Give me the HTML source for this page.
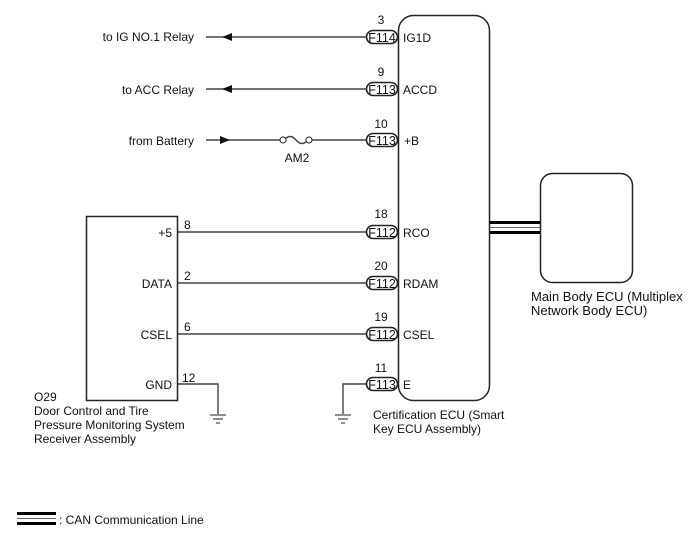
<!DOCTYPE html>
<html><head><meta charset="utf-8"><style>
html,body{margin:0;padding:0;background:#fff;}
svg{display:block;font-family:"Liberation Sans",Arial,sans-serif;}
text{font-size:12px;fill:#111;}
.pill{font-size:12.5px;}
.big{font-size:13px;}
</style></head><body>
<svg width="688" height="560" viewBox="0 0 688 560" xmlns="http://www.w3.org/2000/svg">
<g stroke="#444" stroke-width="1.4" fill="none">
<line x1="206" y1="37" x2="367" y2="37"/>
<line x1="206" y1="89" x2="367" y2="89"/>
<line x1="206" y1="140" x2="282" y2="140"/>
<line x1="308" y1="140" x2="367" y2="140"/>
<path d="M284,140 q6,-7 12,0 q6,7 12,0"/>
<line x1="177" y1="232" x2="367" y2="232"/>
<line x1="177" y1="283" x2="367" y2="283"/>
<line x1="177" y1="334" x2="367" y2="334"/>
<polyline points="177,384 218,384 218,414"/>
<polyline points="367,384 343,384 343,414"/>
</g>
<g fill="#fff" stroke="#444" stroke-width="1.2">
<circle cx="283" cy="140" r="3"/><circle cx="309" cy="140" r="3"/>
</g>
<g fill="#111">
<polygon points="222,37 232,33 232,41"/>
<polygon points="222,89 232,85 232,93"/>
<polygon points="230,140 220,136 220,144"/>
</g>
<g stroke="#444" stroke-width="1.2">
<line x1="210" y1="415" x2="226" y2="415"/><line x1="213" y1="419" x2="223" y2="419"/><line x1="216" y1="423" x2="220" y2="423"/>
<line x1="335" y1="415" x2="351" y2="415"/><line x1="338" y1="419" x2="348" y2="419"/><line x1="341" y1="423" x2="345" y2="423"/>
</g>
<rect x="398.5" y="15.5" width="91" height="385" rx="15" fill="none" stroke="#222" stroke-width="1.5"/>
<rect x="86.5" y="216.5" width="91" height="184" fill="none" stroke="#222" stroke-width="1.5"/>
<rect x="540.5" y="173.5" width="92" height="109" rx="12" fill="none" stroke="#222" stroke-width="1.5"/>
<g stroke="#000">
<line x1="490" y1="222.5" x2="540" y2="222.5" stroke-width="3"/>
<line x1="490" y1="227.5" x2="540" y2="227.5" stroke-width="1" stroke="#666"/>
<line x1="490" y1="232.5" x2="540" y2="232.5" stroke-width="3"/>
<line x1="17" y1="513.5" x2="56" y2="513.5" stroke-width="3"/>
<line x1="17" y1="518.5" x2="56" y2="518.5" stroke-width="1" stroke="#666"/>
<line x1="17" y1="523.5" x2="56" y2="523.5" stroke-width="3"/>
</g>
<g fill="#fff" stroke="#222" stroke-width="1.6">
<rect x="366.5" y="30.5" width="31" height="13" rx="6.5"/>
<rect x="366.5" y="82.5" width="31" height="13" rx="6.5"/>
<rect x="366.5" y="133.5" width="31" height="13" rx="6.5"/>
<rect x="366.5" y="225.5" width="31" height="13" rx="6.5"/>
<rect x="366.5" y="276.5" width="31" height="13" rx="6.5"/>
<rect x="366.5" y="327.5" width="31" height="13" rx="6.5"/>
<rect x="366.5" y="377.5" width="31" height="13" rx="6.5"/>
</g>
<g text-anchor="middle" class="pill">
<text class="pill" x="382" y="42">F114</text><text class="pill" x="382" y="94">F113</text><text class="pill" x="382" y="145">F113</text>
<text class="pill" x="382" y="237">F112</text><text class="pill" x="382" y="288">F112</text><text class="pill" x="382" y="339">F112</text><text class="pill" x="382" y="389">F113</text>
</g>
<g text-anchor="middle">
<text x="381" y="24">3</text><text x="381" y="76">9</text><text x="381" y="128">10</text>
<text x="381" y="218">18</text><text x="381" y="270">20</text><text x="381" y="321">19</text><text x="381" y="372">11</text>
<text x="297" y="162">AM2</text>
</g>
<g>
<text x="403" y="42">IG1D</text><text x="403" y="94">ACCD</text><text x="404" y="145">+B</text>
<text x="403" y="237">RCO</text><text x="403" y="288">RDAM</text><text x="403" y="339">CSEL</text><text x="403" y="389">E</text>
<text x="184" y="229">8</text><text x="184" y="280">2</text><text x="184" y="331">6</text><text x="182" y="382">12</text>
</g>
<g text-anchor="end">
<text x="194" y="41">to IG NO.1 Relay</text>
<text x="194" y="94">to ACC Relay</text>
<text x="194" y="145">from Battery</text>
<text x="172" y="237">+5</text><text x="172" y="288">DATA</text><text x="172" y="339">CSEL</text><text x="172" y="389">GND</text>
</g>
<text x="34" y="401">O29</text>
<text x="34" y="415">Door Control and Tire</text>
<text x="34" y="429">Pressure Monitoring System</text>
<text x="34" y="443">Receiver Assembly</text>
<text x="373" y="419">Certification ECU (Smart</text>
<text x="373" y="433">Key ECU Assembly)</text>
<text class="big" x="531" y="301">Main Body ECU (Multiplex</text>
<text class="big" x="531" y="315">Network Body ECU)</text>
<text x="59" y="524">: CAN Communication Line</text>
</svg>
</body></html>
